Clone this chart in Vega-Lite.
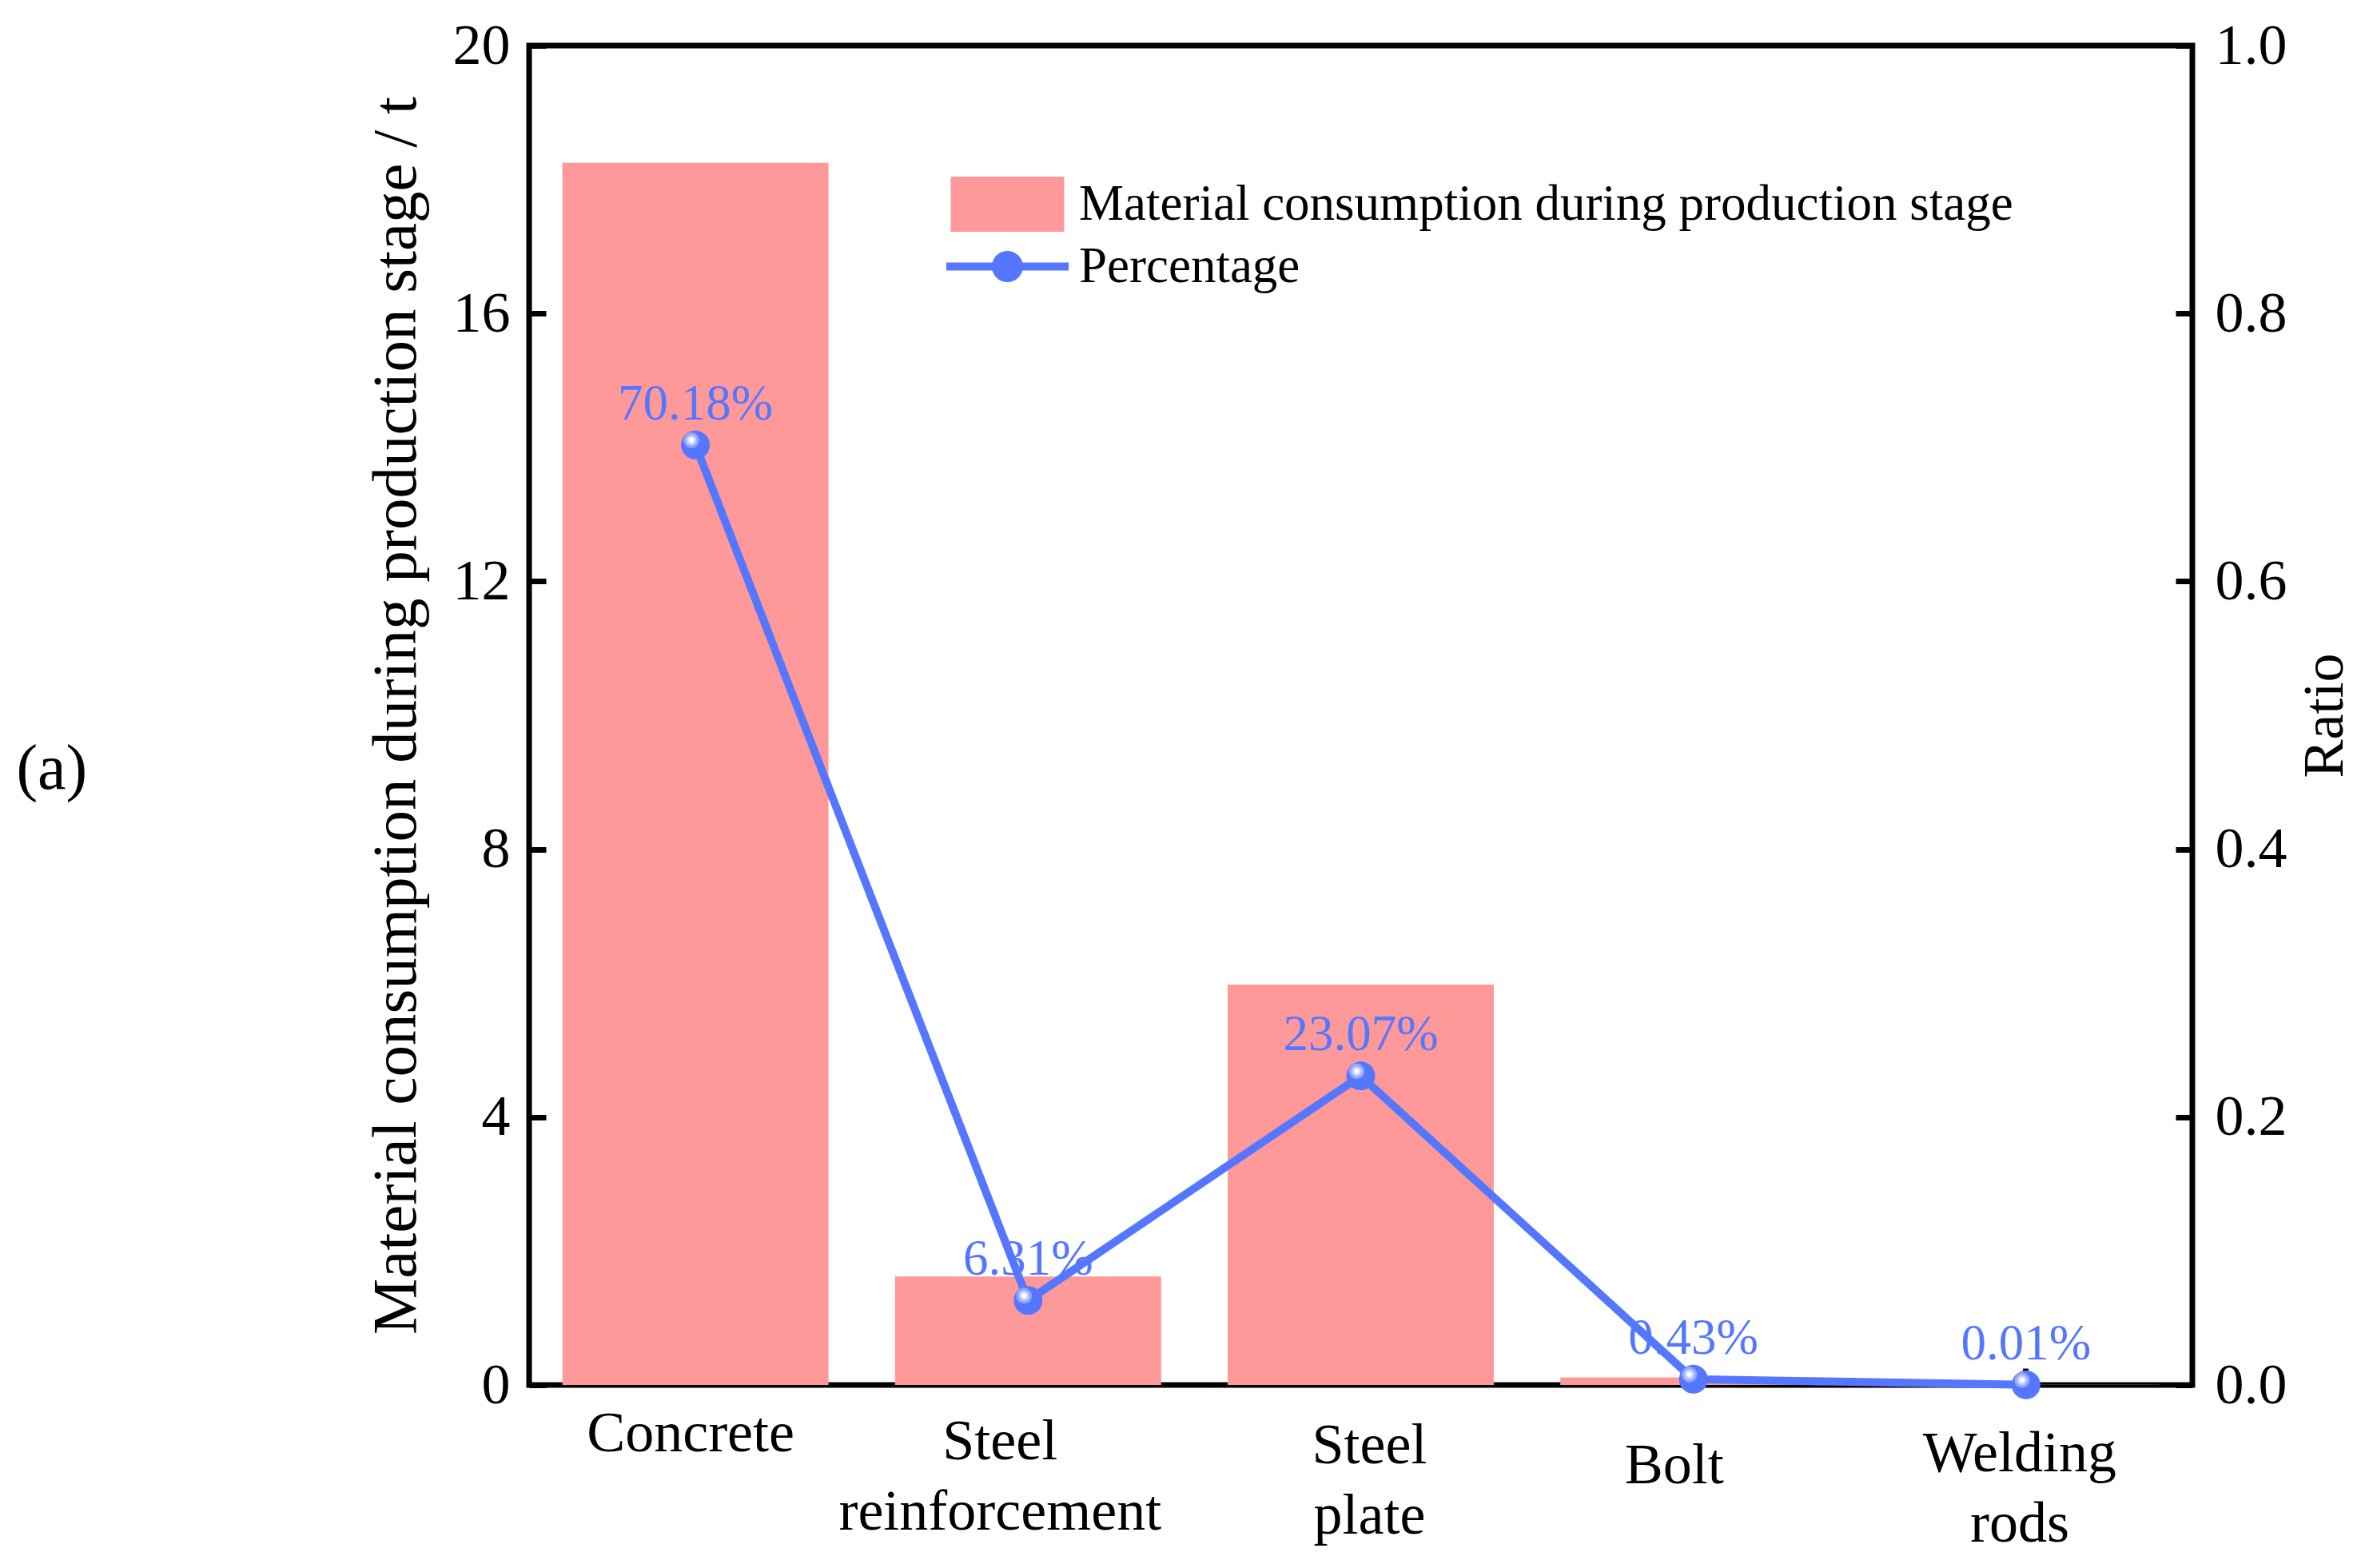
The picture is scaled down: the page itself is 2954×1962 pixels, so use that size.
{
  "$schema": "https://vega.github.io/schema/vega-lite/v6.json",
  "width": 2081,
  "height": 1676,
  "autosize": {"type": "none"},
  "padding": {"left": 662, "top": 57, "right": 211, "bottom": 229},
  "background": "white",
  "title": {
    "text": "(a)",
    "orient": "left",
    "anchor": "middle",
    "angle": 0,
    "align": "right",
    "baseline": "middle",
    "offset": 258,
    "dy": 68,
    "font": "Liberation Serif",
    "fontSize": 80,
    "fontWeight": "normal",
    "color": "black"
  },
  "data": {
    "values": [
      {"material": "Concrete", "consumption": 18.25, "ratio": 0.7018},
      {"material": "Steel reinforcement", "consumption": 1.62, "ratio": 0.0631},
      {"material": "Steel plate", "consumption": 5.98, "ratio": 0.2307},
      {"material": "Bolt", "consumption": 0.112, "ratio": 0.0043},
      {"material": "Welding rods", "consumption": 0.0026, "ratio": 0.0001}
    ]
  },
  "encoding": {
    "x": {
      "field": "material",
      "type": "nominal",
      "sort": null,
      "scale": {"paddingInner": 0.2, "paddingOuter": 0.1},
      "axis": {
        "title": null,
        "labelAngle": 0,
        "labelExpr": "split(datum.label, ' ')",
        "labelFont": "Liberation Serif",
        "labelFontSize": 72,
        "labelColor": "black",
        "labelLineHeight": 88,
        "labelBaseline": "alphabetic",
        "labelPadding": {
          "condition": [
            {"test": "datum.value === 'Bolt'", "value": 143},
            {"test": "datum.value === 'Welding rods'", "value": 128},
            {"test": "datum.value === 'Steel plate'", "value": 118},
            {"test": "datum.value === 'Steel reinforcement'", "value": 113}
          ],
          "value": 103
        },
        "labelOffset": {
          "condition": [
            {"test": "datum.value === 'Steel reinforcement'", "value": -35},
            {"test": "datum.value === 'Bolt'", "value": -24},
            {"test": "datum.value === 'Steel plate'", "value": 11},
            {"test": "datum.value === 'Welding rods'", "value": -8}
          ],
          "value": -6
        },
        "labelLimit": 0,
        "tickSize": -21,
        "tickWidth": 7,
        "tickColor": "black",
        "domain": false,
        "grid": false
      }
    }
  },
  "layer": [
    {
      "mark": {"type": "bar", "opacity": 1},
      "encoding": {
        "y": {
          "field": "consumption",
          "type": "quantitative",
          "scale": {"domain": [0, 20], "nice": false},
          "axis": {
            "title": "Material consumption during production stage / t",
            "values": [0, 4, 8, 12, 16, 20],
            "labelFont": "Liberation Serif",
            "labelFontSize": 72,
            "labelColor": "black",
            "labelPadding": 45,
            "labelFlush": false,
            "labelOverlap": false,
            "tickSize": -21,
            "tickWidth": 7,
            "tickColor": "black",
            "domain": false,
            "grid": false,
            "titleFont": "Liberation Serif",
            "titleFontSize": 79,
            "titleFontWeight": "normal",
            "titleColor": "black",
            "titlePadding": 30
          }
        },
        "color": {
          "datum": "Material consumption during production stage",
          "scale": {"range": ["#FF9999"]},
          "legend": {
            "orient": "none",
            "legendX": 522,
            "legendY": 122,
            "title": null,
            "padding": 0,
            "symbolType": "M-0.928,-0.451H0.928V0.451H-0.928Z",
            "symbolSize": 23409,
            "symbolStrokeWidth": 0,
            "symbolOpacity": 1,
            "labelFont": "Liberation Serif",
            "labelFontSize": 63,
            "labelColor": "black",
            "labelOffset": 13,
            "labelLimit": 0
          }
        }
      }
    },
    {
      "encoding": {
        "y": {
          "field": "ratio",
          "type": "quantitative",
          "scale": {"domain": [0, 1], "nice": false},
          "axis": {
            "orient": "right",
            "title": "Ratio",
            "values": [0, 0.2, 0.4, 0.6, 0.8, 1],
            "format": ".1f",
            "labelFont": "Liberation Serif",
            "labelFontSize": 72,
            "labelColor": "black",
            "labelPadding": 49,
            "labelFlush": false,
            "labelOverlap": false,
            "tickSize": -21,
            "tickWidth": 7,
            "tickColor": "black",
            "domain": false,
            "grid": false,
            "titleFont": "Liberation Serif",
            "titleFontSize": 72,
            "titleFontWeight": "normal",
            "titleColor": "black",
            "titleAngle": -90,
            "titleBaseline": "top",
            "titlePadding": 12
          }
        }
      },
      "layer": [
        {
          "mark": {
            "type": "text",
            "font": "Liberation Serif",
            "fontSize": 63,
            "color": "#5577FF",
            "align": "center",
            "baseline": "alphabetic",
            "dy": -32
          },
          "encoding": {
            "text": {"field": "ratio", "type": "quantitative", "format": ".2%"}
          }
        },
        {
          "mark": {
            "type": "line",
            "color": "#5577FF",
            "strokeWidth": 10,
            "strokeJoin": "round",
            "strokeCap": "round"
          },
          "encoding": {}
        },
        {
          "mark": {"type": "point", "filled": true, "opacity": 1, "size": 1300, "strokeWidth": 0},
          "encoding": {
            "color": {
              "datum": "Percentage",
              "scale": {"range": ["#5577FF"]},
              "legend": {
                "orient": "none",
                "legendX": 522,
                "legendY": 200,
                "title": null,
                "padding": 0,
                "symbolType": "M-1,-0.065H1V0.065H-1Z M0.255,0A0.255,0.255 0 1,1 -0.255,0A0.255,0.255 0 1,1 0.255,0Z",
                "symbolSize": 23409,
                "symbolStrokeWidth": 0,
                "symbolOpacity": 1,
                "labelFont": "Liberation Serif",
                "labelFontSize": 63,
                "labelColor": "black",
                "labelOffset": 13,
                "labelLimit": 0
              }
            }
          }
        },
        {
          "mark": {"type": "point", "filled": true, "opacity": 1, "size": 380, "color": "#93A8FF", "strokeWidth": 0, "xOffset": -5, "yOffset": -6}
        },
        {
          "mark": {"type": "point", "filled": true, "opacity": 1, "size": 154, "color": "#C9D3FF", "strokeWidth": 0, "xOffset": -5, "yOffset": -6}
        },
        {
          "mark": {"type": "point", "filled": true, "opacity": 1, "size": 40, "color": "#FFFFFF", "strokeWidth": 0, "xOffset": -5, "yOffset": -6}
        }
      ]
    }
  ],
  "resolve": {"scale": {"y": "independent", "color": "independent"}},
  "config": {
    "view": {"stroke": "black", "strokeWidth": 7},
    "font": "Liberation Serif"
  }
}
